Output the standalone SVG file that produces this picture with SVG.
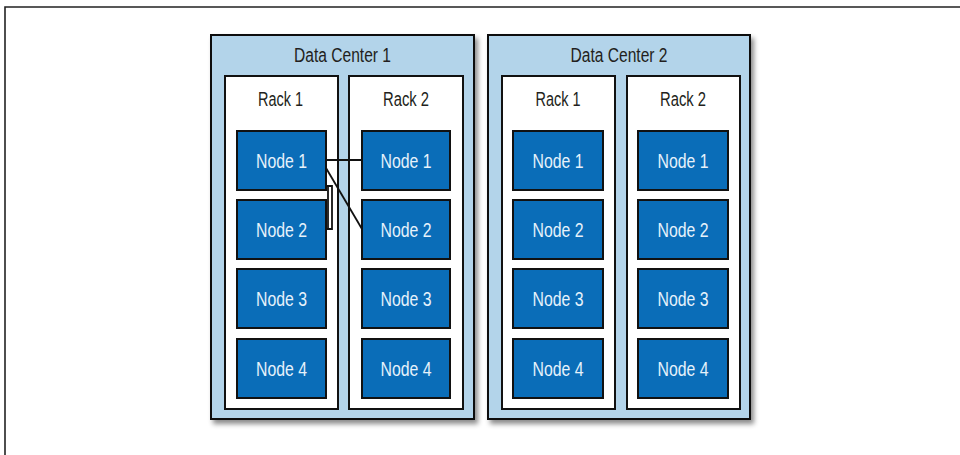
<svg xmlns="http://www.w3.org/2000/svg" width="960" height="455" viewBox="0 0 960 455">
<defs>
<filter id="sh" x="-10%" y="-10%" width="125%" height="125%">
<feDropShadow dx="3" dy="4" stdDeviation="2.5" flood-color="#000" flood-opacity="0.45"/>
</filter>
<style>
.dc{fill:#b3d4ea;stroke:#111;stroke-width:2}
.rack{fill:#fff;stroke:#111;stroke-width:2}
.node{fill:#0a6db8;stroke:#111;stroke-width:2}
.t{font-family:"Liberation Sans",Arial,sans-serif;fill:#231f20;text-anchor:middle;font-size:20px}
.nt{font-family:"Liberation Sans",Arial,sans-serif;fill:#e6f2fb;text-anchor:middle;font-size:20px}
.c{fill:none;stroke:#111;stroke-width:1.8}
</style>
</defs>
<rect width="960" height="455" fill="#fff"/>
<path d="M5 455 V7 H960" fill="none" stroke="#222" stroke-width="1.6"/>

<g id="dc1">
<rect class="dc" x="211" y="35" width="263" height="384" filter="url(#sh)"/>
<text class="t" x="342.5" y="62" textLength="97" lengthAdjust="spacingAndGlyphs">Data Center 1</text>
</g>
<g id="dc1-rack1">
<rect class="rack" x="225" y="76" width="113" height="333"/>
<text class="t" x="280.5" y="106" textLength="45" lengthAdjust="spacingAndGlyphs">Rack 1</text>
</g>
<g id="dc1-rack2">
<rect class="rack" x="349" y="76" width="114" height="333"/>
<text class="t" x="406" y="106" textLength="46" lengthAdjust="spacingAndGlyphs">Rack 2</text>
</g>

<g id="dc2">
<rect class="dc" x="488" y="35" width="262" height="384" filter="url(#sh)"/>
<text class="t" x="619" y="62" textLength="97" lengthAdjust="spacingAndGlyphs">Data Center 2</text>
</g>
<g id="dc2-rack1">
<rect class="rack" x="502" y="76" width="113" height="333"/>
<text class="t" x="558" y="106" textLength="45" lengthAdjust="spacingAndGlyphs">Rack 1</text>
</g>
<g id="dc2-rack2">
<rect class="rack" x="627" y="76" width="113" height="333"/>
<text class="t" x="683" y="106" textLength="46" lengthAdjust="spacingAndGlyphs">Rack 2</text>
</g>

<g id="dc1-r1-n1"><rect class="node" x="237" y="131" width="89" height="59"/><text class="nt" x="281.5" y="168" textLength="51" lengthAdjust="spacingAndGlyphs">Node 1</text></g>
<g id="dc1-r1-n2"><rect class="node" x="237" y="200" width="89" height="59"/><text class="nt" x="281.5" y="237" textLength="51" lengthAdjust="spacingAndGlyphs">Node 2</text></g>
<g id="dc1-r1-n3"><rect class="node" x="237" y="269" width="89" height="59"/><text class="nt" x="281.5" y="306" textLength="51" lengthAdjust="spacingAndGlyphs">Node 3</text></g>
<g id="dc1-r1-n4"><rect class="node" x="237" y="339" width="89" height="59"/><text class="nt" x="281.5" y="376" textLength="51" lengthAdjust="spacingAndGlyphs">Node 4</text></g>

<g id="dc1-r2-n1"><rect class="node" x="362" y="131" width="88" height="59"/><text class="nt" x="406" y="168" textLength="51" lengthAdjust="spacingAndGlyphs">Node 1</text></g>
<g id="dc1-r2-n2"><rect class="node" x="362" y="200" width="88" height="59"/><text class="nt" x="406" y="237" textLength="51" lengthAdjust="spacingAndGlyphs">Node 2</text></g>
<g id="dc1-r2-n3"><rect class="node" x="362" y="269" width="88" height="59"/><text class="nt" x="406" y="306" textLength="51" lengthAdjust="spacingAndGlyphs">Node 3</text></g>
<g id="dc1-r2-n4"><rect class="node" x="362" y="339" width="88" height="59"/><text class="nt" x="406" y="376" textLength="51" lengthAdjust="spacingAndGlyphs">Node 4</text></g>

<g id="dc2-r1-n1"><rect class="node" x="513" y="131" width="90" height="59"/><text class="nt" x="558" y="168" textLength="51" lengthAdjust="spacingAndGlyphs">Node 1</text></g>
<g id="dc2-r1-n2"><rect class="node" x="513" y="200" width="90" height="59"/><text class="nt" x="558" y="237" textLength="51" lengthAdjust="spacingAndGlyphs">Node 2</text></g>
<g id="dc2-r1-n3"><rect class="node" x="513" y="269" width="90" height="59"/><text class="nt" x="558" y="306" textLength="51" lengthAdjust="spacingAndGlyphs">Node 3</text></g>
<g id="dc2-r1-n4"><rect class="node" x="513" y="339" width="90" height="59"/><text class="nt" x="558" y="376" textLength="51" lengthAdjust="spacingAndGlyphs">Node 4</text></g>

<g id="dc2-r2-n1"><rect class="node" x="638" y="131" width="90" height="59"/><text class="nt" x="683" y="168" textLength="51" lengthAdjust="spacingAndGlyphs">Node 1</text></g>
<g id="dc2-r2-n2"><rect class="node" x="638" y="200" width="90" height="59"/><text class="nt" x="683" y="237" textLength="51" lengthAdjust="spacingAndGlyphs">Node 2</text></g>
<g id="dc2-r2-n3"><rect class="node" x="638" y="269" width="90" height="59"/><text class="nt" x="683" y="306" textLength="51" lengthAdjust="spacingAndGlyphs">Node 3</text></g>
<g id="dc2-r2-n4"><rect class="node" x="638" y="339" width="90" height="59"/><text class="nt" x="683" y="376" textLength="51" lengthAdjust="spacingAndGlyphs">Node 4</text></g>

<g id="connectors">
<line class="c" x1="327" y1="160" x2="361" y2="160"/>
<line class="c" x1="326" y1="168" x2="362" y2="229"/>
<polyline class="c" points="327,186 332,186 332,229 327,229"/>
<line class="c" x1="328" y1="186" x2="328" y2="229" stroke-width="1.2"/>
</g>
</svg>
